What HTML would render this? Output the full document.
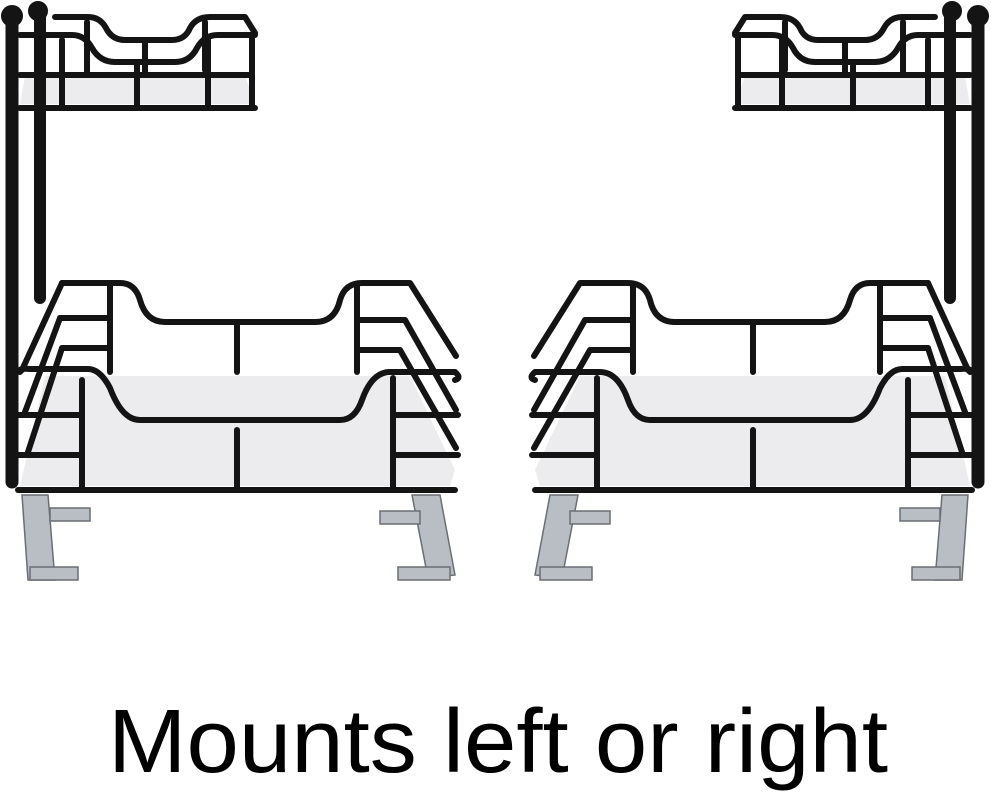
<!DOCTYPE html><html><head><style>body{margin:0;background:#fff}svg{display:block}</style></head><body>
<svg width="991" height="800" viewBox="0 0 991 800" xmlns="http://www.w3.org/2000/svg">
<defs>
<g id="org">
<!-- metallic slides -->
<g fill="#b9bec4" stroke="#6a6f75" stroke-width="1.5">
<polygon points="22,495 48,495 55,580 28,580"/>
<rect x="50" y="508" width="40" height="13"/>
<rect x="30" y="567" width="48" height="13"/>
<polygon points="412,495 440,495 455,575 428,578"/>
<rect x="380" y="511" width="40" height="13"/>
<rect x="398" y="567" width="52" height="13"/>
</g>
<!-- shelves -->
<polygon points="45,376 410,376 455,470 450,486 20,486" fill="#ececee"/>
<polygon points="25,76 245,76 255,104 20,104" fill="#ececee"/>
<g fill="none" stroke="#141414" stroke-width="6" stroke-linecap="round" stroke-linejoin="round">
<!-- posts -->
<line x1="12" y1="18" x2="12" y2="482" stroke-width="13"/>
<line x1="40" y1="12" x2="40" y2="298" stroke-width="12"/>
<circle cx="12" cy="16" r="8" fill="#141414"/><circle cx="38" cy="11" r="7" fill="#141414"/>
<!-- top shelf back rail -->
<path d="M55,17 H88 Q100,17 106,28 Q112,40 125,40 H172 Q185,40 190,28 Q196,17 210,17 H245 L255,33"/>
<path d="M87,22 V72 M145,40 V72 M205,22 V70"/>
<!-- top shelf front rail -->
<path d="M20,35 H72 Q85,35 92,48 Q100,62 115,62 H175 Q190,62 197,48 Q204,35 218,35 H255"/>
<path d="M20,75 H252"/>
<path d="M20,108 H255"/>
<path d="M62,40 V108 M137,62 V108 M208,40 V108 M252,35 V108"/>
<!-- basket back rail -->
<path d="M62,283 H120 Q135,283 140,300 Q146,322 165,322 H315 Q335,322 340,300 Q345,283 362,283 H410 L456,356"/>
<path d="M62,283 L22,370"/>
<path d="M110,285 V372 M237,322 V372 M357,285 V372"/>
<path d="M60,318 H110 M62,348 H110 M357,320 H405 L456,410 M357,350 H400 L456,448"/>
<path d="M60,318 L25,412 M62,348 L28,452"/>
<!-- front rail -->
<path d="M20,372 Q18,368 30,369 H88 Q100,369 110,388 Q122,420 140,420 H340 Q355,420 362,400 Q372,372 390,372 H455 Q462,378 455,380"/>
<path d="M82,380 V490 M237,430 V490 M393,378 V490"/>
<path d="M18,415 H82 M18,455 H82 M393,415 H458 M393,455 H458"/>
<path d="M18,490 H455"/>
</g>
</g>
</defs>
<use href="#org"/>
<use href="#org" transform="translate(990,0) scale(-1,1)"/>
<text x="108" y="772" font-family="Liberation Sans, sans-serif" font-size="90" fill="#000" textLength="780" lengthAdjust="spacingAndGlyphs">Mounts left or right</text>
</svg>
</body></html>
